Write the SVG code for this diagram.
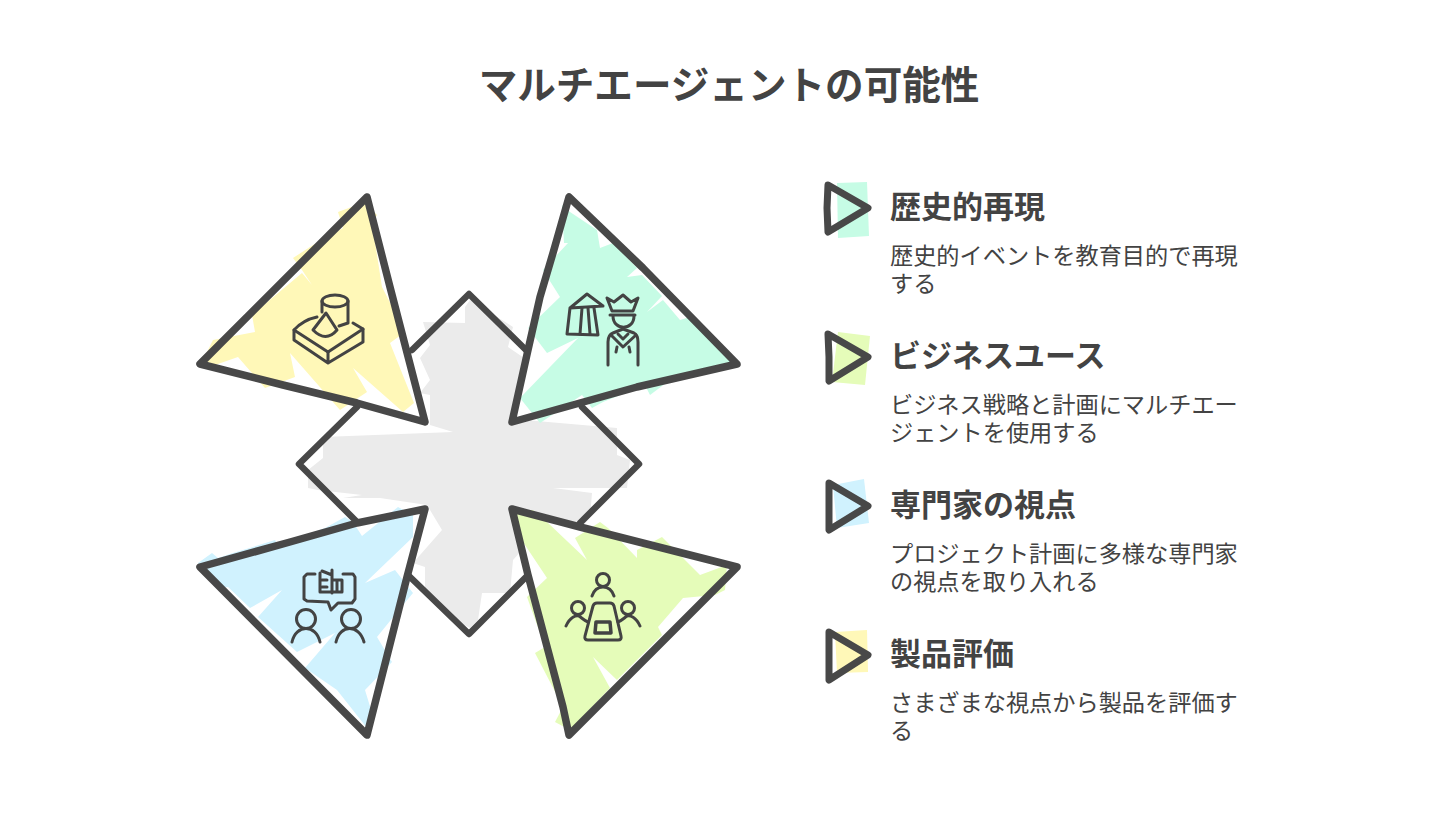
<svg xmlns="http://www.w3.org/2000/svg" width="1456" height="819" viewBox="0 0 1456 819">
<style>
.t{font-family:"Noto Sans CJK JP","Noto Sans",sans-serif;fill:#434343}
.h{font-size:38.6px;font-weight:700}
.s{font-size:31px;font-weight:700}
.d{font-size:23.2px;font-weight:400}
.o{fill:none;stroke:#484848;stroke-width:7.5;stroke-linejoin:round;stroke-linecap:round}
.m{fill:none;stroke:#484848;stroke-width:6.5;stroke-linejoin:round;stroke-linecap:round}
.n{fill:none;stroke:#484848;stroke-width:7;stroke-linejoin:round;stroke-linecap:round}
.i{fill:none;stroke:#434343;stroke-width:3;stroke-linejoin:round;stroke-linecap:round}
.w{fill:#fff}
.y{fill:#fff8b8}.g{fill:#c6fce5}.b{fill:#d0f2fe}.l{fill:#e5fcb9}
</style>
<rect width="1456" height="819" fill="#fff"/>
<text class="t h" x="729" y="99" text-anchor="middle">マルチエージェントの可能性</text>
<g id="center">
<polygon fill="#ebebeb" points="470,300 513,327 508,347 530,362 525,420 617,428 617,455 630,460 627,488 553,488 592,493 590,517 580,530 540,530 513,560 510,593 482,593 478,620 470,628 455,620 425,590 425,567 413,563 442,530 427,505 380,498 343,498 362,495 318,490 308,488 308,470 323,458 323,437 453,432 430,425 430,395 420,393 430,380 420,358 430,345 423,322 465,323 465,307"/>
</g>
<g id="tri-yellow-fill">
<polygon class="w" points="367,197 200,364 425,422"/>
<polygon class="y" points="338,212 365,202 377,215 372,223 382,287 405,332 390,343 414,403 403,412 353,368 367,392 340,410 290,353 295,377 265,388 238,357 215,365 203,360 213,340 255,332 252,315 302,273 312,285 302,270 293,258 313,245 343,228"/>
</g>
<g id="tri-mint-fill">
<polygon class="w" points="569,197 737,364 512,422"/>
<polygon class="g" points="562,205 570,212 597,230 600,248 613,243 637,268 627,277 642,275 662,296 647,312 663,300 680,320 690,317 732,363 718,372 670,380 650,395 645,385 603,402 592,408 582,395 540,423 520,398 578,338 547,353 528,328 560,297 543,270 568,243 564,243"/>
</g>
<g id="tri-blue-fill">
<polygon class="w" points="200,567 425,509 367,735"/>
<polygon class="b" points="198,563 212,553 218,558 233,553 275,540 278,545 325,528 345,517 353,522 362,536 398,507 413,515 413,537 365,583 395,570 413,593 403,605 377,637 392,662 365,690 372,713 367,728 337,690 305,668 335,633 297,652 258,617 282,590 250,608 228,587 218,588 200,567"/>
</g>
<g id="tri-lime-fill">
<polygon class="w" points="512,509 737,567 569,735"/>
<polygon class="l" points="513,513 533,510 547,522 587,560 575,538 600,522 608,528 637,558 637,550 662,537 700,575 727,565 725,590 715,595 683,598 658,627 662,635 617,680 593,657 610,688 570,730 555,722 563,707 535,653 545,647 527,597 547,578 513,527"/>
</g>
<g id="connectors">
<polyline class="m" points="526,350 469,294 412,350"/>
<polyline class="m" points="357,407 299,464 357,522"/>
<polyline class="m" points="408,575 469,634 526,577"/>
<polyline class="m" points="582,407 639,464 580,523"/>
</g>
<g id="tri-yellow">
<polygon class="o" points="367,197 200,364 283,385 357,403 425,422 390,287"/>
<g class="i">
<ellipse cx="335" cy="301" rx="13" ry="6"/>
<path d="M322,301V312M348,301V323L339,326"/>
<path d="M326,313L313,330Q326,343 337,330Z"/>
<path d="M317,317Q303,320 294,330L328,352L363,329L353,323"/>
<path d="M294,330V340L328,363L363,342V329M328,352V363"/>
</g>
</g>
<g id="tri-mint">
<polygon class="o" points="569,197 553,253 540,297 528,350 512,422 637,387 737,364 643,268"/>
<g class="i">
<path d="M570,308L587,294L603,306M570,308L603,306M570,308L567,334L598,335L594,308"/>
<path d="M582,308L580,334M588,308L590,334"/>
<path d="M612,311L607,298L614,302L623,295L631,302L638,298L633,311Z"/>
<path d="M610,315H635M613,316C613,331 634,331 634,316"/>
<path d="M608,365V342Q608,335 613,333L623,329L634,333Q638,335 638,342V365"/>
<path d="M611,335L623,347L636,335M618,334L623,339L628,334M617,347L616,352M629,347L630,352"/>
</g>
</g>
<g id="tri-blue">
<polygon class="o" points="200,567 290,542 357,523 425,509 407,577 367,735"/>
<g class="i">
<path d="M315,574H307L304,577V599L307,601L328,602L331,610L338,603H352L355,599V577L353,574H343"/>
<path d="M332,570V593M322,571L332,575M320,573V592H342V580H332M337,580V592M322,580H327M322,587H327"/>
<circle cx="306" cy="619" r="9.5"/>
<path d="M292,642C296,624 316,624 320,642"/>
<circle cx="351" cy="619" r="9.5"/>
<path d="M336,642C340,624 359,624 364,642"/>
</g>
</g>
<g id="tri-lime">
<polygon class="o" points="512,509 580,527 737,567 569,735 563,707 528,575"/>
<g class="i">
<circle cx="603" cy="580" r="6.5"/>
<path d="M592,596C596,584 610,584 614,596"/>
<circle cx="578" cy="608" r="6.5"/>
<path d="M566,626C570,617 576,615 579,616C583,619 585,621 588,622"/>
<circle cx="628" cy="608" r="6.5"/>
<path d="M640,626C636,617 630,615 627,616C623,619 621,621 618,622"/>
<path d="M593,606Q594,603 597,603H610Q613,603 614,606L621,636Q622,640 618,640H588Q584,640 585,636Z"/>
<path d="M596,622H610L611,633H595Z" stroke-width="3.5"/>
</g>
</g>
<g id="item-1">
<polygon class="g" points="837,183 867,182 869,236 838,238"/>
<polygon class="n" points="828,185 868,208 828,232 827,208"/>
<text class="t s" x="890" y="218">歴史的再現</text>
<text class="t d" x="890" y="264">歴史的イベントを教育目的で再現</text>
<text class="t d" x="890" y="292">する</text>
</g>
<g id="item-2">
<polygon class="l" points="838,332 870,336 865,385 832,382"/>
<polygon class="n" points="828,334 868,357 829,381 829,357"/>
<text class="t s" x="890" y="367">ビジネスユース</text>
<text class="t d" x="890" y="413">ビジネス戦略と計画にマルチエー</text>
<text class="t d" x="890" y="441">ジェントを使用する</text>
</g>
<g id="item-3">
<polygon class="b" points="833,485 864,479 869,523 837,528"/>
<polygon class="n" points="829,483 868,506 829,530 829,506"/>
<text class="t s" x="890" y="516">専門家の視点</text>
<text class="t d" x="890" y="562">プロジェクト計画に多様な専門家</text>
<text class="t d" x="890" y="590">の視点を取り入れる</text>
</g>
<g id="item-4">
<polygon class="y" points="835,632 867,630 868,672 837,673"/>
<polygon class="n" points="829,632 868,655 829,680 829,655"/>
<text class="t s" x="890" y="665">製品評価</text>
<text class="t d" x="890" y="711">さまざまな視点から製品を評価す</text>
<text class="t d" x="890" y="739">る</text>
</g>
</svg>
